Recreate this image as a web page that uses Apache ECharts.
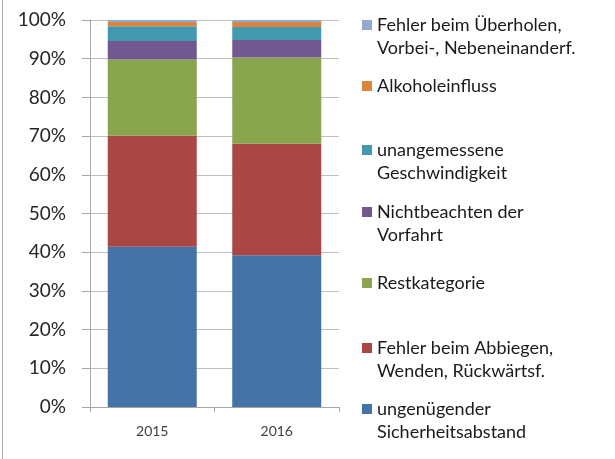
<!DOCTYPE html>
<html>
<head>
<meta charset="utf-8">
<script src="https://cdn.jsdelivr.net/npm/echarts@6/dist/echarts.min.js"></script>
<style>
  html, body { margin: 0; padding: 0; background: #fff; }
  #chart { height: 459px; box-sizing: border-box; border-left: 1px solid #a6a6a6; margin-left: 2px; width: 613px; }
</style>
</head>
<body>
<div id="chart"></div>
<script>
// Anteile der Unfallursachen (in %), von unten nach oben gestapelt
const years = ['2015', '2016']
const seriesNames = [
  'ungenügender Sicherheitsabstand',
  'Fehler beim Abbiegen, Wenden, Rückwärtsf.',
  'Restkategorie',
  'Nichtbeachten der Vorfahrt',
  'unangemessene Geschwindigkeit',
  'Alkoholeinfluss',
  'Fehler beim Überholen, Vorbei-, Nebeneinanderf.'
]
const abstand = [41.4, 39.2]
const abbiegen = [28.7, 28.8]
const rest = [19.7, 22.3]
const vorfahrt = [4.8, 4.5]
const geschwindigkeit = [3.8, 3.4]
const alkohol = [1.1, 1.3]
const ueberholen = [0.5, 0.5]
const yTicks = [0, 10, 20, 30, 40, 50, 60, 70, 80, 90, 100]

const values = [abstand, abbiegen, rest, vorfahrt, geschwindigkeit, alkohol, ueberholen]
const colors = ['#4572A7', '#AA4643', '#89A54E', '#71588F', '#4198AF', '#DB843D', '#93A9CF']

// Legendentext mit Zeilenumbruch wie im Original
const legendLines = {
  'ungenügender Sicherheitsabstand': ['ungenügender', 'Sicherheitsabstand'],
  'Fehler beim Abbiegen, Wenden, Rückwärtsf.': ['Fehler beim Abbiegen,', 'Wenden, Rückwärtsf.'],
  'Restkategorie': ['Restkategorie'],
  'Nichtbeachten der Vorfahrt': ['Nichtbeachten der', 'Vorfahrt'],
  'unangemessene Geschwindigkeit': ['unangemessene', 'Geschwindigkeit'],
  'Alkoholeinfluss': ['Alkoholeinfluss'],
  'Fehler beim Überholen, Vorbei-, Nebeneinanderf.': ['Fehler beim Überholen,', 'Vorbei-, Nebeneinanderf.']
}
// y-Mitte der Legenden-Symbole (px), von oben nach unten
const legendIconY = [25, 86, 150, 212, 283, 348, 409]
const lineH = 23
const font = 'Lato, "Open Sans", sans-serif'

const chart = echarts.init(document.getElementById('chart'))

const legendOrder = seriesNames.slice().reverse()
const legends = legendOrder.map((name, i) => {
  const lines = legendLines[name]
  // zweizeilig: leere Zeile davor, damit das Symbol auf Höhe der ersten Zeile sitzt
  const text = lines.length > 1 ? '\u00a0\n' + lines.join('\n') : lines[0]
  const h = lines.length > 1 ? lineH * 3 : lineH
  return {
    data: [name],
    left: 359,
    top: legendIconY[i] - h / 2,
    padding: 0,
    icon: 'rect',
    itemWidth: 10,
    itemHeight: 10,
    itemGap: 0,
    selectedMode: false,
    formatter: () => text,
    textStyle: { fontSize: 18, lineHeight: lineH, color: '#1a1a1a', fontFamily: font }
  }
})

chart.setOption({
  animation: false,
  color: colors,
  grid: { left: 87, right: 276, top: 20, bottom: 52 },
  legend: legends,
  xAxis: {
    type: 'category',
    data: years,
    axisLine: { lineStyle: { color: '#a6a6a6' } },
    axisTick: { show: true, length: 5, lineStyle: { color: '#a6a6a6' } },
    axisLabel: { color: '#404040', fontSize: 14, margin: 17, fontFamily: font }
  },
  yAxis: {
    type: 'value',
    min: yTicks[0],
    max: yTicks[yTicks.length - 1],
    interval: 10,
    axisLine: { show: true, lineStyle: { color: '#a6a6a6' } },
    axisTick: { show: true, length: 8, lineStyle: { color: '#a6a6a6' } },
    axisLabel: { formatter: '{value}%', color: '#262626', fontSize: 19, margin: 24, fontFamily: font },
    splitLine: { lineStyle: { color: '#bfbfbf' } }
  },
  series: seriesNames.map((name, i) => ({
    name: name,
    type: 'bar',
    stack: 'total',
    barWidth: 89,
    data: values[i]
  }))
})
</script>
</body>
</html>
